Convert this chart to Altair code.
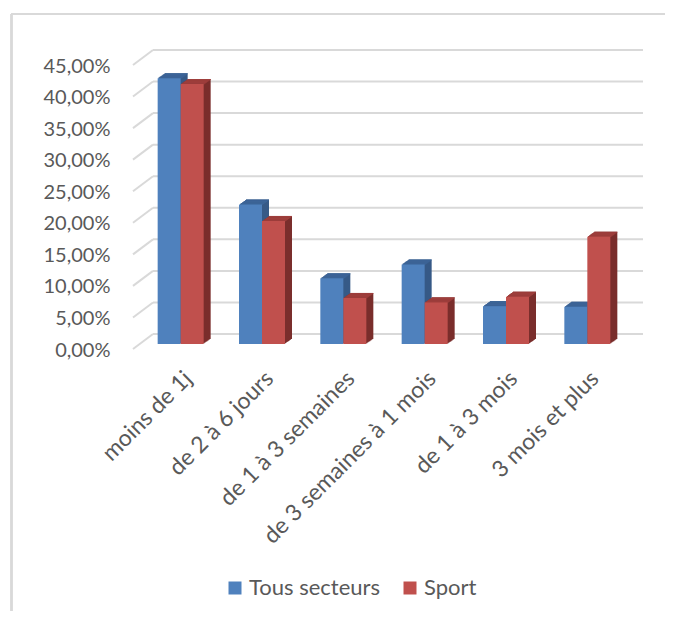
import altair as alt
import pandas as pd

categories = ["moins de 1j", "de 2 à 6 jours", "de 1 à 3 semaines",
              "de 3 semaines à 1 mois", "de 1 à 3 mois", "3 mois et plus"]
tous_secteurs = [0.421, 0.221, 0.104, 0.126, 0.060, 0.059]
sport = [0.412, 0.195, 0.073, 0.066, 0.075, 0.170]
series_names = ["Tous secteurs", "Sport"]
grid_values = [0.0, 0.05, 0.10, 0.15, 0.20, 0.25, 0.30, 0.35, 0.40, 0.45]

df = pd.DataFrame({
    "cat": categories * 2,
    "series": [series_names[0]] * len(categories) + [series_names[1]] * len(categories),
    "value": tous_secteurs + sport,
})
grid_df = pd.DataFrame({"value": grid_values})

W, H = 488, 284
FONT = "Lato"
TXT = "#595959"
GRID = "#d9d9d9"
BLUE, BLUE_SIDE, BLUE_TOP = "#4f81bd", "#375a87", "#3d6598"
RED, RED_SIDE, RED_TOP = "#c0504d", "#7a2e2c", "#a03f3d"
BAR = 23
DEPTH_X, DEPTH_Y, STEPS = 7, 5, 7

x_enc = alt.X(
    "cat:N", sort=categories,
    scale=alt.Scale(paddingInner=0.4, paddingOuter=0.2),
    axis=alt.Axis(title=None, labelAngle=-45, labelAlign="right", labelBaseline="top",
                  labelPadding=23, ticks=False, tickSize=0, domain=False, grid=False,
                  labelFont=FONT, labelFontSize=23, labelColor=TXT, labelLimit=400),
)
y_enc = alt.Y(
    "value:Q",
    scale=alt.Scale(domain=[0, 0.45], nice=False, zero=True),
    axis=alt.Axis(title=None, values=grid_values,
                  labelExpr="replace(format(datum.value, '.2%'), '.', ',')",
                  ticks=False, tickSize=0, domain=False, grid=False,
                  labelPadding=30, labelOffset=6,
                  labelFont=FONT, labelFontSize=20, labelColor=TXT),
)
color_enc = alt.Color(
    "series:N",
    scale=alt.Scale(domain=series_names, range=[BLUE, RED]),
    legend=alt.Legend(title=None, orient="none", legendX=84, legendY=517,
                      direction="horizontal", symbolType="square", symbolSize=169,
                      symbolStrokeWidth=0, labelFont=FONT, labelFontSize=22,
                      labelColor=TXT, labelOffset=3, columnPadding=18, padding=0),
)

layers = []

# frame of the chart area
layers.append(alt.Chart(grid_df).mark_rule(color=GRID, strokeWidth=1.5).encode(
    x=alt.value(-128.5), y=alt.value(-46), y2=alt.value(560)))
layers.append(alt.Chart(grid_df).mark_rule(color=GRID, strokeWidth=1.5).encode(
    x=alt.value(-128.5), x2=alt.value(540), y=alt.value(-46)))

# back wall gridlines
layers.append(alt.Chart(grid_df).mark_rule(color=GRID, strokeWidth=2, yOffset=-10).encode(
    y=y_enc, x=alt.value(13), x2=alt.value(503)))
# side wall diagonals
layers.append(alt.Chart(grid_df).mark_rule(color=GRID, strokeWidth=2, yOffset=5, y2Offset=-10).encode(
    y=y_enc, y2=alt.Y2("value:Q"), x=alt.value(-7), x2=alt.value(13)))


def series_layers(name, base_dx, side, top):
    d = df[df.series == name]
    base = alt.Chart(d)
    out = []
    for i in range(STEPS, 0, -1):
        dx = base_dx + i * DEPTH_X / STEPS
        dy = -i * DEPTH_Y / STEPS
        out.append(base.mark_bar(size=BAR, color=side, xOffset=dx, x2Offset=dx,
                                 yOffset=dy, y2Offset=dy).encode(x=x_enc, y=y_enc))
    for i in range(STEPS, 0, -1):
        dx = base_dx + i * DEPTH_X / STEPS
        dy = -i * DEPTH_Y / STEPS
        out.append(base.mark_bar(size=BAR, color=top, xOffset=dx, x2Offset=dx,
                                 yOffset=dy, y2Offset=dy + 1.0).encode(
            x=x_enc, y=y_enc, y2=alt.Y2("value:Q")))
    out.append(base.mark_bar(size=BAR, xOffset=base_dx, x2Offset=base_dx).encode(
        x=x_enc, y=y_enc, color=color_enc))
    return out


layers += series_layers(series_names[0], -BAR / 2, BLUE_SIDE, BLUE_TOP)
layers += series_layers(series_names[1], BAR / 2, RED_SIDE, RED_TOP)

chart = alt.layer(*layers).properties(
    width=W, height=H,
    padding={"left": 132, "top": 52, "right": 37, "bottom": 267},
    autosize=alt.AutoSizeParams(type="none"),
    background="white",
).configure_view(stroke=None)

chart.save("out.html", embed_options={"renderer": "svg", "actions": False})
